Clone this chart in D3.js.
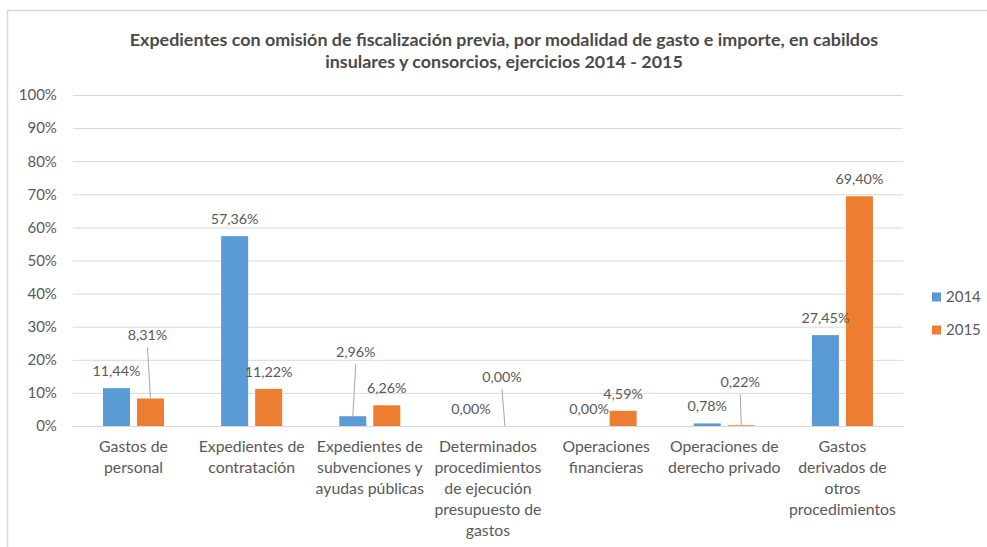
<!DOCTYPE html>
<html>
<head>
<meta charset="utf-8">
<script src="https://cdn.jsdelivr.net/npm/d3@7"></script>
<style>
  html, body { margin: 0; padding: 0; background: #fff; }
  svg { display: block; }
  text { font-family: Lato, "Open Sans", sans-serif; fill: #595959; }
</style>
</head>
<body>
<svg id="chart" width="987" height="547"></svg>
<script>
// ---- data ----
const titleLines = [
  "Expedientes con omisión de fiscalización previa, por modalidad de gasto e importe, en cabildos",
  "insulares y consorcios, ejercicios 2014 - 2015"
];
const categories = [
  "Gastos de\npersonal",
  "Expedientes de\ncontratación",
  "Expedientes de\nsubvenciones y\nayudas públicas",
  "Determinados\nprocedimientos\nde ejecución\npresupuesto de\ngastos",
  "Operaciones\nfinancieras",
  "Operaciones de\nderecho privado",
  "Gastos\nderivados de\notros\nprocedimientos"
];
const years = ["2014", "2015"];
const values2014 = [0.1144, 0.5736, 0.0296, 0.0000, 0.0000, 0.0078, 0.2745];
const values2015 = [0.0831, 0.1122, 0.0626, 0.0000, 0.0459, 0.0022, 0.6940];
const yTicks = [0, 0.1, 0.2, 0.3, 0.4, 0.5, 0.6, 0.7, 0.8, 0.9, 1.0];

// ---- layout / style config ----
const colors = { "2014": "#5B9BD5", "2015": "#ED7D31" };
// labels moved away from their bars (drawn with leader lines): [series, categoryIndex, dx, dy]
const movedLabels = [["2015", 0, -3, -46], ["2014", 2, 3, -47], ["2015", 3, -3, -32], ["2015", 5, -1, -26]];

const svg = d3.select("#chart");
svg.append("rect").attr("width", 987).attr("height", 547).attr("fill", "#fff");
svg.append("rect").attr("x", 7.5).attr("y", 10.5).attr("width", 1000).attr("height", 600)
  .attr("fill", "none").attr("stroke", "#D9D9D9").attr("stroke-width", 1.5);

const plot = { left: 74.4, right: 901.5, top: 95, bottom: 426 };

const x0 = d3.scaleBand().domain(categories).range([plot.left, plot.right]).padding(0);
const x1 = d3.scaleBand().domain(years).range([0, x0.bandwidth()]).paddingInner(0.206).paddingOuter(0.84);
const y = d3.scaleLinear().domain([0, 1]).range([plot.bottom, plot.top]);

// title
const title = svg.append("g");
titleLines.forEach((t, i) => {
  title.append("text").attr("x", 504).attr("y", 46 + i * 21.5)
    .attr("text-anchor", "middle").attr("font-weight", "bold").attr("font-size", 17.9)
    .style("fill", "#4a4a4a")
    .text(t);
});

// gridlines + y axis
const yAxis = d3.axisLeft(y).tickValues(yTicks).tickFormat(d => Math.round(d * 100) + "%")
  .tickSize(-(plot.right - plot.left + 3)).tickPadding(16);
const gy = svg.append("g").attr("transform", `translate(${plot.left - 1.5},0)`).call(yAxis);
gy.select(".domain").remove();
gy.selectAll(".tick line").attr("stroke", "#D9D9D9").attr("stroke-width", 1);
gy.selectAll(".tick text").attr("font-size", 15).attr("fill", "#595959")
  .attr("font-family", "Lato, sans-serif");

// x axis labels
const xAxis = d3.axisBottom(x0).tickSize(0).tickFormat("");
const gx = svg.append("g").attr("transform", `translate(0,${plot.bottom})`).call(xAxis);
gx.select(".domain").attr("stroke", "#D9D9D9");
gx.selectAll(".tick").each(function(d) {
  const lines = d.split("\n");
  const t = d3.select(this).append("text").attr("text-anchor", "middle")
    .attr("font-size", 15.8).attr("fill", "#595959").attr("font-family", "Lato, sans-serif");
  lines.forEach((ln, i) => {
    t.append("tspan").attr("x", 0).attr("y", 26 + i * 21).text(ln);
  });
});

// bars
const seriesData = { "2014": values2014, "2015": values2015 };
const fmt = v => (v * 100).toFixed(2).replace(".", ",") + "%";
years.forEach(yr => {
  const g = svg.append("g");
  g.selectAll("rect").data(seriesData[yr]).join("rect")
    .attr("x", (d, i) => x0(categories[i]) + x1(yr))
    .attr("y", d => y(d))
    .attr("width", x1.bandwidth())
    .attr("height", d => y(0) - y(d))
    .attr("fill", colors[yr]);
});

// data labels
years.forEach(yr => {
  seriesData[yr].forEach((v, i) => {
    const cx = x0(categories[i]) + x1(yr) + x1.bandwidth() / 2;
    const top = y(v);
    const mv = movedLabels.find(m => m[0] === yr && m[1] === i);
    let lx = cx, ly = top - 17;
    if (mv) {
      lx = cx + mv[2]; ly = top - 17 + mv[3];
      svg.append("line").attr("x1", lx).attr("y1", ly + 12).attr("x2", cx).attr("y2", top)
        .attr("stroke", "#A6A6A6").attr("stroke-width", 1);
    }
    svg.append("text").attr("x", lx).attr("y", ly).attr("dy", "0.35em")
      .attr("text-anchor", "middle").attr("font-size", 14.3).text(fmt(v));
  });
});

// legend
const legend = svg.append("g").attr("transform", "translate(932,297)");
years.forEach((yr, i) => {
  const row = legend.append("g").attr("transform", `translate(0,${i * 33})`);
  row.append("rect").attr("x", 0).attr("y", -4.5).attr("width", 9).attr("height", 9).attr("fill", colors[yr]);
  row.append("text").attr("x", 14).attr("y", 0).attr("dy", "0.35em").attr("font-size", 15).text(yr);
});
</script>
</body>
</html>
